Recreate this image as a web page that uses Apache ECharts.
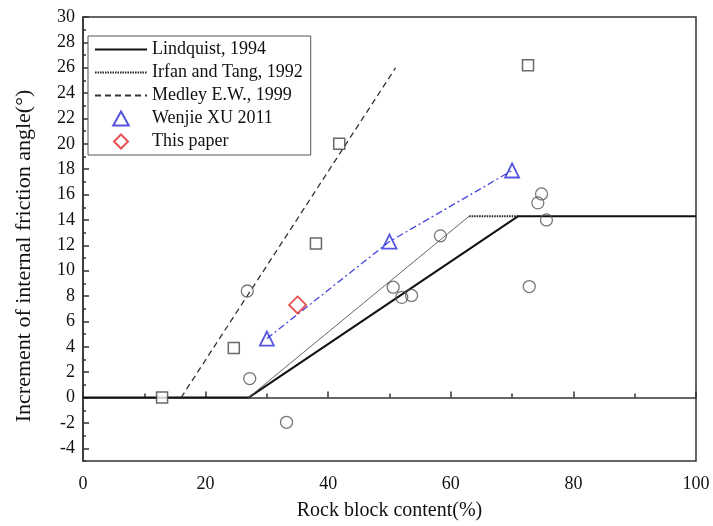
<!DOCTYPE html>
<html><head><meta charset="utf-8">
<script src="https://cdn.jsdelivr.net/npm/echarts@6/dist/echarts.min.js"></script>
<style>html,body{margin:0;padding:0;background:#fff}#c{width:713px;height:526px}</style>
</head><body><div id="c"></div>
<script>
// ---- data ----
const lindquistX = [0, 27, 71, 100];
const lindquistY = [0, 0, 14.3, 14.3];
const irfanX = [27, 63, 71];
const irfanY = [0, 14.3, 14.3];
const medleyX = [16, 51];
const medleyY = [0, 26];
const wenjieX = [30, 50, 70];
const wenjieY = [4.65, 12.3, 17.9];
const thisPaperX = [35];
const thisPaperY = [7.3];
const squareX = [12.9, 24.6, 38.0, 41.8, 72.6];
const squareY = [0, 3.9, 12.15, 20.0, 26.2];
const circleX = [26.8, 27.2, 33.2, 50.6, 52.0, 53.6, 58.3, 74.8, 74.2, 75.6, 72.8];
const circleY = [8.4, 1.5, -1.95, 8.7, 7.9, 8.05, 12.75, 16.05, 15.35, 14.0, 8.75];
const yTickLabels = [-4, -2, 0, 2, 4, 6, 8, 10, 12, 14, 16, 18, 20, 22, 24, 26, 28, 30];
const yMinorTicks = [-5, -3, -1, 1, 3, 5, 7, 9, 11, 13, 15, 17, 19, 21, 23, 25, 27, 29];
const xTickLabels = [0, 20, 40, 60, 80, 100];
const legendNames = ['Lindquist, 1994', 'Irfan and Tang, 1992', 'Medley E.W., 1999', 'Wenjie XU 2011', 'This paper'];

const zip = (xs, ys) => xs.map((x, i) => [x, ys[i]]);
const FONT = 'Liberation Serif';
const AX = '#333';
const hideSym = {opacity: 0};

const chart = echarts.init(document.getElementById('c'), null, {renderer: 'canvas'});
chart.setOption({
  animation: false,
  backgroundColor: '#fff',
  textStyle: {fontFamily: FONT},
  grid: {left: 83, right: 17, top: 17, bottom: 62, show: true, borderColor: AX, borderWidth: 1.5, backgroundColor: 'transparent'},
  legend: {
    data: [
      {name: legendNames[0], itemStyle: hideSym},
      {name: legendNames[1], itemStyle: hideSym},
      {name: legendNames[2], itemStyle: hideSym},
      {name: legendNames[3], icon: 'path://M5,0 L10,9 L0,9 Z'},
      {name: legendNames[4], icon: 'path://M5,0 L10,5 L5,10 L0,5 Z'}
    ],
    orient: 'vertical', left: 88, top: 36,
    itemWidth: 52, itemHeight: 14, itemGap: 4,
    symbolKeepAspect: true,
    padding: [4, 8, 4, 6],
    borderColor: '#555', borderWidth: 1, backgroundColor: '#fff',
    textStyle: {fontFamily: FONT, fontSize: 18, color: '#111', lineHeight: 19},
    selectedMode: false
  },
  xAxis: {
    type: 'value', min: xTickLabels[0], max: xTickLabels[xTickLabels.length - 1], interval: 20,
    name: 'Rock block content(%)', nameLocation: 'middle', nameGap: 40,
    nameTextStyle: {fontFamily: FONT, fontSize: 20, color: '#111'},
    axisLine: {show: true, lineStyle: {color: AX, width: 1.5}},
    axisTick: {show: true, inside: true, length: 6, lineStyle: {color: AX, width: 1.5}},
    minorTick: {show: true, splitNumber: 2, length: 4, lineStyle: {color: AX, width: 1.5}},
    axisLabel: {fontFamily: FONT, fontSize: 18, color: '#111', margin: 14},
    splitLine: {show: false}
  },
  yAxis: [{
    type: 'value', min: -5, max: 30,
    name: 'Increment of internal friction angle(°)', nameLocation: 'middle', nameGap: 48,
    nameTextStyle: {fontFamily: FONT, fontSize: 22, color: '#111', padding: [0, 34, 0, 0]},
    axisLine: {show: true, lineStyle: {color: AX, width: 1.5}},
    axisTick: {show: true, inside: true, length: 6, customValues: yTickLabels, lineStyle: {color: AX, width: 1.5}},
    axisLabel: {fontFamily: FONT, fontSize: 18, color: '#111', margin: 8, customValues: yTickLabels},
    splitLine: {show: false}
  }, {
    type: 'value', min: -5, max: 30, position: 'left',
    axisLine: {show: false},
    axisTick: {show: true, inside: true, length: 3, customValues: yMinorTicks, lineStyle: {color: AX, width: 1.5}},
    axisLabel: {show: false},
    splitLine: {show: false}
  }],
  series: [
    {name: legendNames[0], type: 'line', data: zip(lindquistX, lindquistY), symbol: 'none',
     lineStyle: {color: '#111', width: 2}, itemStyle: {color: '#111'}, z: 3},
    {name: legendNames[1], type: 'line', data: zip(irfanX.slice(1), irfanY.slice(1)), symbol: 'none',
     lineStyle: {color: '#222', width: 2, type: [1.5, 1]}, itemStyle: {color: '#222'}, z: 3},
    {name: legendNames[1], type: 'line', data: zip(irfanX.slice(0, 2), irfanY.slice(0, 2)), symbol: 'none',
     lineStyle: {color: '#666', width: 1}, itemStyle: {color: '#666'}, z: 3},
    {name: legendNames[2], type: 'line', data: zip(medleyX, medleyY), symbol: 'none',
     lineStyle: {color: '#333', width: 1.3, type: [6, 4]}, itemStyle: {color: '#333'}, z: 3},
    {name: 'wenjie-fit', type: 'line', data: zip(wenjieX, wenjieY), symbol: 'none',
     lineStyle: {color: '#4848dd', width: 1.3, type: [7, 3, 2, 3]}, z: 3},
    {name: legendNames[3], type: 'scatter', data: zip(wenjieX, wenjieY), symbol: 'triangle', symbolSize: 14,
     itemStyle: {color: 'rgba(255,255,255,0)', borderColor: '#2a2ad8', borderWidth: 1.8}, z: 5},
    {name: legendNames[4], type: 'scatter', data: zip(thisPaperX, thisPaperY), symbol: 'diamond', symbolSize: 17,
     itemStyle: {color: 'rgba(255,255,255,0)', borderColor: '#e02424', borderWidth: 1.8}, z: 5},
    {name: 'squares', type: 'scatter', data: zip(squareX, squareY), symbol: 'rect', symbolSize: 11,
     itemStyle: {color: '#fff', borderColor: '#444', borderWidth: 1.5}, z: 4},
    {name: 'circles', type: 'scatter', data: zip(circleX, circleY), symbol: 'circle', symbolSize: 12,
     itemStyle: {color: 'rgba(255,255,255,0)', borderColor: '#555', borderWidth: 1.3}, z: 4}
  ]
});
</script>
</body></html>
